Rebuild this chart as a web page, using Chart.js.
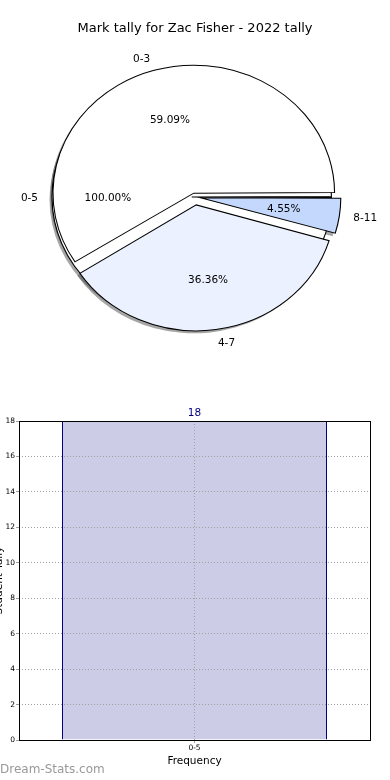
<!DOCTYPE html>
<html>
<head>
<meta charset="utf-8">
<title>Mark tally for Zac Fisher - 2022 tally</title>
<script src="https://cdn.jsdelivr.net/npm/chart.js@4.4.1/dist/chart.umd.min.js"></script>
<style>
  html, body { margin: 0; padding: 0; background: #fff; }
  body { position: relative; width: 390px; height: 780px; overflow: hidden; font-family: "DejaVu Sans", sans-serif; }
  canvas { position: absolute; }
  #pieBack { left: 0; top: 0; z-index: 1; }
  #pieFront { left: 0; top: 0; z-index: 2; }
  #bars { left: -6px; top: 400px; }
  #mark { position: absolute; left: 0; top: 762px; font-size: 12px; color: #999; }
</style>
</head>
<body>
<canvas id="pieBack" width="390" height="390"></canvas>
<canvas id="pieFront" width="390" height="390"></canvas>
<canvas id="bars" width="396" height="380"></canvas>
<div id="mark">Dream-Stats.com</div>
<script>
// data
const chartTitle = 'Mark tally for Zac Fisher - 2022 tally';
const markLabels = ['0-3', '4-7', '8-11'];
const markCounts = [13, 8, 1];
const totalLabels = ['0-5'];
const totalCounts = [18];
const freqLabels = ['0-5'];
const freqCounts = [18];
const yMax = 18;
const yStep = 2;

// looks
const markColors = ['#ffffff', '#ebf1fe', '#c4d8fe'];
const markExplode = [4, 8, 5];   // px each wedge is pushed out
const totalExplode = [3];
const SX = 1.1;                  // pie is a bit wider than tall
const R = 124;

Chart.defaults.font.family = '"DejaVu Sans", sans-serif';
Chart.defaults.color = '#000';
Chart.defaults.animation = false;

// chart.js arcs move by offset/4 and grow a little, same sums here
function wedge(arc) {
    const off = (arc.options.offset || 0) / 4;
    const half = (arc.startAngle + arc.endAngle) / 2;
    const fix = 1 - Math.sin(Math.min(Math.PI, arc.circumference));
    return {
        x: arc.x + Math.cos(half) * off,
        y: arc.y + Math.sin(half) * off,
        r: arc.outerRadius + off * fix,
        half: half, a0: arc.startAngle, a1: arc.endAngle
    };
}

function squash(chart) {
    const a = chart.chartArea, cx = (a.left + a.right) / 2;
    chart.ctx.translate(cx, 0);
    chart.ctx.scale(SX, 1);
    chart.ctx.translate(-cx, 0);
}

function shadows(ctx, chart) {
    ctx.fillStyle = 'rgba(77,77,77,0.5)';
    chart.getDatasetMeta(0).data.forEach(function (arc) {
        const w = wedge(arc);
        const x = w.x - 2.5 / SX, y = w.y + 2.5;
        ctx.beginPath();
        ctx.moveTo(x, y);
        ctx.arc(x, y, w.r, w.a0, w.a1);
        ctx.closePath();
        ctx.fill();
    });
}

// labels of any pie, written on the canvas ctx (text sits above all wedges)
function pieLabels(ctx, chart) {
    const a = chart.chartArea, cx = (a.left + a.right) / 2;
    const data = chart.data.datasets[0].data;
    const total = data.reduce((s, v) => s + v, 0);
    ctx.save();
    ctx.font = '10.5px "DejaVu Sans"';
    ctx.fillStyle = '#000';
    ctx.textBaseline = 'middle';
    chart.getDatasetMeta(0).data.forEach(function (arc, i) {
        const w = wedge(arc);
        const c = Math.cos(w.half), s = Math.sin(w.half);
        const x0 = cx + (w.x - cx) * SX, y0 = w.y + 1;
        ctx.textAlign = c < 0 ? 'right' : 'left';
        ctx.fillText(chart.data.labels[i], x0 + c * 1.1 * w.r * SX, y0 + s * 1.1 * w.r);
        ctx.textAlign = 'center';
        ctx.fillText((data[i] / total * 100).toFixed(2) + '%', x0 + c * 0.6 * w.r * SX, y0 + s * 0.6 * w.r);
    });
    ctx.restore();
}

function pieLook(shadowCharts, labelCharts) {
    return {
        id: 'pieLook',
        beforeDatasetsDraw: function (chart) {
            chart.ctx.save();
            squash(chart);
            shadowCharts(chart).forEach(c => shadows(chart.ctx, c));
        },
        afterDatasetsDraw: function (chart) {
            chart.ctx.restore();
            labelCharts(chart).forEach(c => pieLabels(chart.ctx, c));
        }
    };
}

function pieOptions(extra) {
    return Object.assign({
        responsive: false,
        events: [],
        rotation: 90,
        radius: R,
        plugins: { legend: { display: false }, tooltip: { enabled: false } }
    }, extra);
}

let back = null;

// front pie, drawn counter clockwise from 3 o'clock like the original
const front = new Chart(document.getElementById('pieFront'), {
    type: 'pie',
    data: {
        labels: markLabels.slice().reverse(),
        datasets: [{
            data: markCounts.slice().reverse(),
            backgroundColor: markColors.slice().reverse(),
            offset: markExplode.map(v => v * 4).reverse(),
            borderColor: '#000',
            borderWidth: 1,
            borderJoinStyle: 'miter'
        }]
    },
    options: pieOptions({
        layout: { padding: { bottom: 32.6 } },
        plugins: {
            legend: { display: false },
            tooltip: { enabled: false },
            title: {
                display: true,
                text: chartTitle,
                color: '#000',
                font: { size: 13, weight: 'normal' },
                padding: { top: 21, bottom: 0 }
            }
        }
    }),
    plugins: [pieLook(() => [], self => back ? [back, self] : [self])]
});

// back pie, the whole 0-5 range under the others
back = new Chart(document.getElementById('pieBack'), {
    type: 'pie',
    data: {
        labels: totalLabels,
        datasets: [{
            data: totalCounts,
            backgroundColor: '#ffffff',
            offset: totalExplode.map(v => v * 4),
            borderColor: '#000',
            borderWidth: 1,
            borderJoinStyle: 'miter'
        }]
    },
    options: pieOptions({ layout: { padding: { top: 4 } } }),
    plugins: [pieLook(self => [front, self], () => [])]
});
front.draw();

const frame = {
    id: 'frame',
    afterDraw: function (chart) {
        const ctx = chart.ctx, a = chart.chartArea;
        ctx.save();
        ctx.strokeStyle = '#000';
        ctx.lineWidth = 1;
        ctx.strokeRect(Math.round(a.left) + 0.5, Math.round(a.top) + 0.5,
            Math.round(a.width), Math.round(a.height));
        ctx.fillStyle = '#000080';
        ctx.font = '10.5px "DejaVu Sans"';
        ctx.textAlign = 'center';
        ctx.textBaseline = 'bottom';
        chart.getDatasetMeta(0).data.forEach(function (bar, i) {
            ctx.fillText(String(chart.data.datasets[0].data[i]), bar.x, bar.y - 2);
        });
        ctx.restore();
    }
};

new Chart(document.getElementById('bars'), {
    type: 'bar',
    data: {
        labels: freqLabels,
        datasets: [{
            data: freqCounts,
            backgroundColor: '#cccce6',
            borderColor: '#000080',
            borderWidth: 1,
            borderSkipped: 'bottom',
            inflateAmount: 0,
            barPercentage: 265 / 351,
            categoryPercentage: 1
        }]
    },
    options: {
        responsive: false,
        events: [],
        layout: { padding: { top: 21, right: 20, left: 0, bottom: 0 } },
        plugins: { legend: { display: false }, tooltip: { enabled: false } },
        scales: {
            x: {
                grid: { offset: false, color: '#a0a0a0', z: 1, tickLength: 3, tickColor: '#a0a0a0' },
                border: { display: false, dash: [1, 2] },
                ticks: { font: { size: 7.5 }, color: '#000', padding: 1 },
                title: { display: true, text: 'Frequency', font: { size: 10.5 }, color: '#000', padding: { top: 0, bottom: 12 } },
                afterFit: function (s) { s.height = 40; }
            },
            y: {
                min: 0,
                max: yMax,
                ticks: { stepSize: yStep, font: { size: 7.5 }, color: '#000', padding: 1 },
                grid: { color: '#a0a0a0', z: 1, tickLength: 3, tickColor: '#a0a0a0' },
                border: { display: false, dash: [1, 2] },
                title: { display: true, text: 'Student Tally', font: { size: 10.5 }, color: '#000', padding: { top: -1, bottom: 0 } },
                afterFit: function (s) { s.width = 25; }
            }
        }
    },
    plugins: [frame]
});
</script>
</body>
</html>
